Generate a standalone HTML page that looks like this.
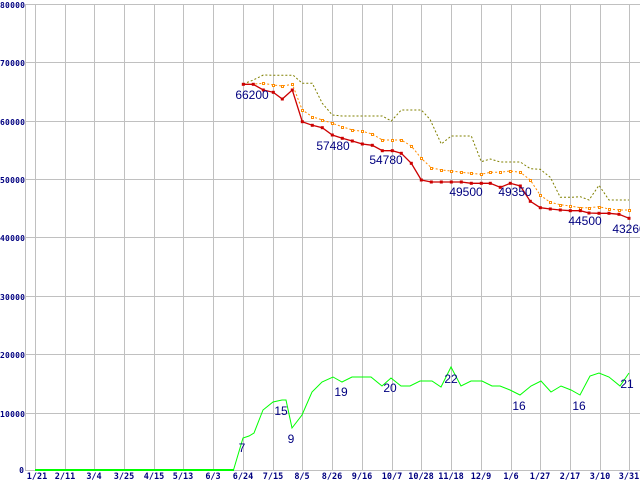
<!DOCTYPE html>
<html><head><meta charset="utf-8"><style>
html,body{margin:0;padding:0;background:#fff;}
svg{display:block;}
.yl{font-family:"DejaVu Sans Mono","Liberation Mono",monospace;font-size:8px;font-weight:bold;fill:#000080;}
.xl{font-family:"DejaVu Sans Mono","Liberation Mono",monospace;font-size:8.5px;font-weight:bold;fill:#000080;}
.dl{font-family:"Liberation Sans",sans-serif;font-size:12px;fill:#000080;}
</style></head><body>
<svg width="640" height="480" viewBox="0 0 640 480" xmlns="http://www.w3.org/2000/svg">
<rect width="640" height="480" fill="#fff"/>
<g stroke="#c0c0c0" stroke-width="1" shape-rendering="crispEdges">
<line x1="25" y1="4.5" x2="640" y2="4.5"/>
<line x1="25" y1="62.5" x2="640" y2="62.5"/>
<line x1="25" y1="121.5" x2="640" y2="121.5"/>
<line x1="25" y1="179.5" x2="640" y2="179.5"/>
<line x1="25" y1="237.5" x2="640" y2="237.5"/>
<line x1="25" y1="296.5" x2="640" y2="296.5"/>
<line x1="25" y1="354.5" x2="640" y2="354.5"/>
<line x1="25" y1="413.5" x2="640" y2="413.5"/>
<line x1="25" y1="470.5" x2="640" y2="470.5"/>
<line x1="25.5" y1="4" x2="25.5" y2="471"/>
<line x1="35.5" y1="4" x2="35.5" y2="471"/>
<line x1="65.5" y1="4" x2="65.5" y2="471"/>
<line x1="94.5" y1="4" x2="94.5" y2="471"/>
<line x1="124.5" y1="4" x2="124.5" y2="471"/>
<line x1="154.5" y1="4" x2="154.5" y2="471"/>
<line x1="183.5" y1="4" x2="183.5" y2="471"/>
<line x1="213.5" y1="4" x2="213.5" y2="471"/>
<line x1="243.5" y1="4" x2="243.5" y2="471"/>
<line x1="273.5" y1="4" x2="273.5" y2="471"/>
<line x1="302.5" y1="4" x2="302.5" y2="471"/>
<line x1="332.5" y1="4" x2="332.5" y2="471"/>
<line x1="362.5" y1="4" x2="362.5" y2="471"/>
<line x1="392.5" y1="4" x2="392.5" y2="471"/>
<line x1="421.5" y1="4" x2="421.5" y2="471"/>
<line x1="451.5" y1="4" x2="451.5" y2="471"/>
<line x1="481.5" y1="4" x2="481.5" y2="471"/>
<line x1="511.5" y1="4" x2="511.5" y2="471"/>
<line x1="540.5" y1="4" x2="540.5" y2="471"/>
<line x1="570.5" y1="4" x2="570.5" y2="471"/>
<line x1="600.5" y1="4" x2="600.5" y2="471"/>
<line x1="629.5" y1="4" x2="629.5" y2="471"/>
</g>
<g class="yl" text-anchor="end">
<text x="25" y="8" textLength="25">80000</text><text x="25" y="66" textLength="25">70000</text><text x="25" y="125" textLength="25">60000</text>
<text x="25" y="183" textLength="25">50000</text><text x="25" y="241" textLength="25">40000</text><text x="25" y="300" textLength="25">30000</text>
<text x="25" y="358" textLength="25">20000</text><text x="25" y="417" textLength="25">10000</text><text x="24" y="473">0</text>
</g>
<g class="xl" text-anchor="middle">
<text x="37" y="479">1/21</text><text x="65" y="479">2/11</text><text x="94" y="479">3/4</text>
<text x="124" y="479">3/25</text><text x="154" y="479">4/15</text><text x="183" y="479">5/13</text>
<text x="213" y="479">6/3</text><text x="243" y="479">6/24</text><text x="273" y="479">7/15</text>
<text x="302" y="479">8/5</text><text x="332" y="479">8/26</text><text x="362" y="479">9/16</text>
<text x="392" y="479">10/7</text><text x="421" y="479">10/28</text><text x="451" y="479">11/18</text>
<text x="481" y="479">12/9</text><text x="511" y="479">1/6</text><text x="540" y="479">1/27</text>
<text x="570" y="479">2/17</text><text x="600" y="479">3/10</text><text x="629" y="479">3/31</text>
</g>
<polyline fill="none" stroke="#808000" stroke-width="1" stroke-dasharray="2,2" points="243.3,84 253.3,80 263.3,75 273.3,75.3 293.3,75.3 302.3,83.3 312.3,83.3 322.3,103.3 332.3,115 342.3,116 382.3,116 391.3,121 401.3,110 421.3,110 430,119.3 441.3,144 451.3,136 471.3,136 481.3,161.7 490.3,159 500.3,162 520.3,162 530.3,168.7 540.3,169.3 550.3,177.3 560.3,197.3 570.3,197.3 580.3,196.7 589,200 599,185.3 609,200 629,200"/>
<polyline fill="none" stroke="#ff8c00" stroke-width="1" stroke-dasharray="2,2" points="243.3,84 253.3,84 263.3,83.3 273.3,85 282.3,86 292.3,84.3 302.3,110 312.3,116.7 322.3,120 332.3,123.3 342.3,126.7 352.3,130 362.3,131.3 372.3,134 382.3,140 392.3,140 401.3,140 411.3,146 421.3,158.3 431.3,167.7 441.3,170 451.3,171 461.3,172.3 471.3,173.3 481.3,174.3 490.3,172.3 500.3,172.3 510.3,171 520.3,172.3 530.3,180 540.3,195.3 550.3,202.3 560.3,204.7 570.3,206 580.3,207.7 589,207.7 599,206.7 609,209 619,210 629,210"/>
<g fill="#fff" stroke="#ff8c00" stroke-width="1" transform="translate(0.5,0.5)">
<rect x="262" y="82" width="2" height="2"/><rect x="272" y="84" width="2" height="2"/><rect x="281" y="85" width="2" height="2"/><rect x="291" y="83" width="2" height="2"/><rect x="301" y="109" width="2" height="2"/><rect x="311" y="116" width="2" height="2"/><rect x="321" y="119" width="2" height="2"/><rect x="331" y="122" width="2" height="2"/><rect x="341" y="126" width="2" height="2"/><rect x="351" y="129" width="2" height="2"/><rect x="361" y="130" width="2" height="2"/><rect x="371" y="133" width="2" height="2"/><rect x="381" y="139" width="2" height="2"/><rect x="391" y="139" width="2" height="2"/><rect x="400" y="139" width="2" height="2"/><rect x="410" y="145" width="2" height="2"/><rect x="420" y="157" width="2" height="2"/><rect x="430" y="167" width="2" height="2"/><rect x="440" y="169" width="2" height="2"/><rect x="450" y="170" width="2" height="2"/><rect x="460" y="171" width="2" height="2"/><rect x="470" y="172" width="2" height="2"/><rect x="480" y="173" width="2" height="2"/><rect x="489" y="171" width="2" height="2"/><rect x="499" y="171" width="2" height="2"/><rect x="509" y="170" width="2" height="2"/><rect x="519" y="171" width="2" height="2"/><rect x="529" y="179" width="2" height="2"/><rect x="539" y="194" width="2" height="2"/><rect x="549" y="201" width="2" height="2"/><rect x="559" y="204" width="2" height="2"/><rect x="569" y="205" width="2" height="2"/><rect x="579" y="207" width="2" height="2"/><rect x="588" y="207" width="2" height="2"/><rect x="598" y="206" width="2" height="2"/><rect x="608" y="208" width="2" height="2"/><rect x="618" y="209" width="2" height="2"/><rect x="628" y="209" width="2" height="2"/>
</g>
<polyline fill="none" stroke="#cc0000" stroke-width="1.3" points="243.3,84.3 253.3,84.3 263.3,90 273.3,92.3 282.3,99 292.3,90 302.3,121.7 312.3,125.3 322.3,127.7 332.3,135 342.3,138.3 352.3,141 362.3,144 372.3,145.3 382.3,150.7 392.3,150.7 401.3,153.3 411.3,163.3 421.3,180 431.3,182 441.3,182 451.3,182 461.3,182 471.3,183.3 481.3,183.3 490.3,183.3 500.3,187.3 510.3,183.3 520.3,186 530.3,201.3 540.3,207.7 550.3,209 560.3,210 570.3,210.7 580.3,210.7 589,213 599,213.3 609,213.3 619,214.3 629,218.3"/>
<g fill="#cc0000">
<rect x="241.8" y="82.8" width="3" height="3"/><rect x="251.8" y="82.8" width="3" height="3"/><rect x="261.8" y="88.5" width="3" height="3"/><rect x="271.8" y="90.8" width="3" height="3"/><rect x="280.8" y="97.5" width="3" height="3"/><rect x="290.8" y="88.5" width="3" height="3"/><rect x="300.8" y="120.2" width="3" height="3"/><rect x="310.8" y="123.8" width="3" height="3"/><rect x="320.8" y="126.2" width="3" height="3"/><rect x="330.8" y="133.5" width="3" height="3"/><rect x="340.8" y="136.8" width="3" height="3"/><rect x="350.8" y="139.5" width="3" height="3"/><rect x="360.8" y="142.5" width="3" height="3"/><rect x="370.8" y="143.8" width="3" height="3"/><rect x="380.8" y="149.2" width="3" height="3"/><rect x="390.8" y="149.2" width="3" height="3"/><rect x="399.8" y="151.8" width="3" height="3"/><rect x="409.8" y="161.8" width="3" height="3"/><rect x="419.8" y="178.5" width="3" height="3"/><rect x="429.8" y="180.5" width="3" height="3"/><rect x="439.8" y="180.5" width="3" height="3"/><rect x="449.8" y="180.5" width="3" height="3"/><rect x="459.8" y="180.5" width="3" height="3"/><rect x="469.8" y="181.8" width="3" height="3"/><rect x="479.8" y="181.8" width="3" height="3"/><rect x="488.8" y="181.8" width="3" height="3"/><rect x="498.8" y="185.8" width="3" height="3"/><rect x="508.8" y="181.8" width="3" height="3"/><rect x="518.8" y="184.5" width="3" height="3"/><rect x="528.8" y="199.8" width="3" height="3"/><rect x="538.8" y="206.2" width="3" height="3"/><rect x="548.8" y="207.5" width="3" height="3"/><rect x="558.8" y="208.5" width="3" height="3"/><rect x="568.8" y="209.2" width="3" height="3"/><rect x="578.8" y="209.2" width="3" height="3"/><rect x="587.5" y="211.5" width="3" height="3"/><rect x="597.5" y="211.8" width="3" height="3"/><rect x="607.5" y="211.8" width="3" height="3"/><rect x="617.5" y="212.8" width="3" height="3"/><rect x="627.5" y="216.8" width="3" height="3"/>
</g>
<polyline fill="none" stroke="#00ff00" stroke-width="1" points="35,470 233.5,470 243,438 249,436 254,433 263,410 273,402 282,400 286,400 292,428 302,415 312,392 322,382 333,377 342,382 352,377 371,377 382,386 391,378 401,386 410,386 420,381 432,381 441,387 451,367 461,386 471,381 482,381 492,386 500,386 510,390 520,395 531,386 541,381 551,392 561,386 571,390 580,395 590,376 599,373 609,377 620,386 629,373"/>
<line x1="35" y1="470" x2="234" y2="470" stroke="#00ff00" stroke-width="2"/>
<g class="dl" text-anchor="middle">
<text x="252" y="99">66200</text><text x="333" y="150">57480</text><text x="386" y="164">54780</text>
<text x="466" y="196">49500</text><text x="515" y="196">49350</text><text x="585" y="225">44500</text>
<text x="629" y="233">43260</text>
<text x="242" y="452">7</text><text x="281" y="415">15</text><text x="291" y="443">9</text>
<text x="341" y="396">19</text><text x="390" y="392">20</text><text x="451" y="383">22</text>
<text x="519" y="410">16</text><text x="579" y="410">16</text><text x="627" y="388">21</text>
</g>
</svg>
</body></html>
